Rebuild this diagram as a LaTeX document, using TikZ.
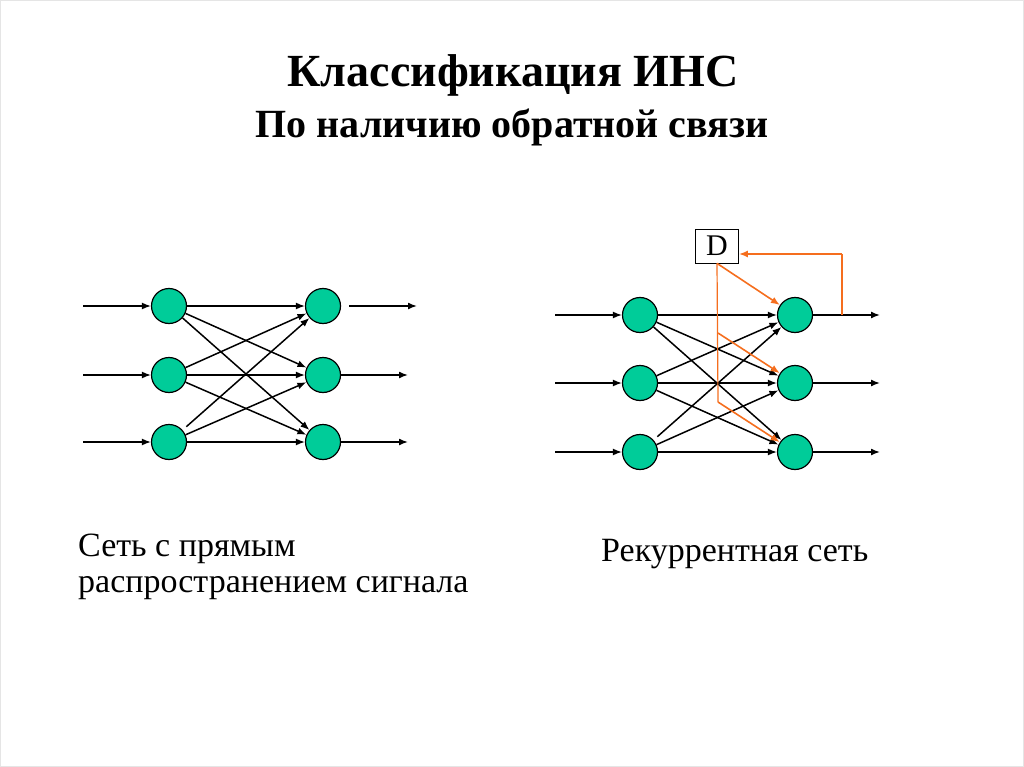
\documentclass[tikz,border=0pt]{standalone}
\usepackage{fontspec}
\setmainfont{Liberation Serif}
\usetikzlibrary{arrows.meta}
\definecolor{nGreen}{RGB}{0,204,153}
\definecolor{fbOrange}{RGB}{245,110,30}
\begin{document}
\begin{tikzpicture}[x=1pt,y=-1pt,
  neuron/.style={circle,draw=black,line width=1.2pt,fill=nGreen,minimum size=35pt,inner sep=0pt},
  conn/.style={-{Latex[length=9pt,width=7pt]},line width=1.5pt},
  fb/.style={draw=fbOrange,line width=1.2pt},
  fbarrow/.style={draw=fbOrange,line width=1.6pt,-{Latex[length=9pt,width=7pt]}},
  title/.style={font=\bfseries\fontsize{46}{46}\selectfont,anchor=base},
  subtitle/.style={font=\bfseries\fontsize{40}{40}\selectfont,anchor=base},
  caption/.style={font=\fontsize{34}{34}\selectfont,anchor=base west,inner sep=0pt},
]
\path[use as bounding box] (0,0) rectangle (1024,767);
\draw[black!10] (0.5,0.5) rectangle (1023.5,766.5);

% titles
\node[title] (t1) at (513,87) {Классификация ИНС};
\node[subtitle] (t2) at (512,138) {По наличию обратной связи};

% left network
\node[neuron] (a1) at (169,306) {};
\node[neuron] (a2) at (169,375) {};
\node[neuron] (a3) at (169,442) {};
\node[neuron] (b1) at (323,306) {};
\node[neuron] (b2) at (323,375) {};
\node[neuron] (b3) at (323,442) {};
\coordinate (ia1) at (83,306);
\coordinate (ia2) at (83,375);
\coordinate (ia3) at (83,442);
\coordinate (ob1s) at (349,306);
\coordinate (ob1) at (417,306);
\coordinate (ob2) at (408,375);
\coordinate (ob3) at (408,442);
\draw[conn] (ia1) -- (a1);
\draw[conn] (ia2) -- (a2);
\draw[conn] (ia3) -- (a3);
\draw[conn] (a1) -- (b1);
\draw[conn] (a1) -- (b2);
\draw[conn] (a1) -- (b3);
\draw[conn] (a2) -- (b1);
\draw[conn] (a2) -- (b2);
\draw[conn] (a2) -- (b3);
\draw[conn,shorten <=5pt] (a3) -- (b1);
\draw[conn] (a3) -- (b2);
\draw[conn] (a3) -- (b3);
\draw[conn] (ob1s) -- (ob1);
\draw[conn] (b2) -- (ob2);
\draw[conn] (b3) -- (ob3);

% right network
\node[neuron] (c1) at (640,315) {};
\node[neuron] (c2) at (640,383) {};
\node[neuron] (c3) at (640,452) {};
\node[neuron] (d1) at (795,315) {};
\node[neuron] (d2) at (795,383) {};
\node[neuron] (d3) at (795,452) {};
\coordinate (ic1) at (555,315);
\coordinate (ic2) at (555,383);
\coordinate (ic3) at (555,452);
\coordinate (od1) at (880,315);
\coordinate (od2) at (880,383);
\coordinate (od3) at (880,452);
\draw[conn] (ic1) -- (c1);
\draw[conn] (ic2) -- (c2);
\draw[conn] (ic3) -- (c3);
\draw[conn] (c1) -- (d1);
\draw[conn] (c1) -- (d2);
\draw[conn] (c1) -- (d3);
\draw[conn] (c2) -- (d1);
\draw[conn] (c2) -- (d2);
\draw[conn] (c2) -- (d3);
\draw[conn,shorten <=5pt] (c3) -- (d1);
\draw[conn] (c3) -- (d2);
\draw[conn] (c3) -- (d3);
\draw[conn] (d1) -- (od1);
\draw[conn] (d2) -- (od2);
\draw[conn] (d3) -- (od3);

% delay box and feedback
\node[draw,line width=0.8pt,fill=white,minimum width=43pt,minimum height=34pt,inner sep=0pt,
      font=\fontsize{30}{30}\selectfont] (D) at (717,246) {D};
\coordinate (fbtap) at (842,315);
\coordinate (fbtop) at (842,254);
\coordinate (fbmid) at (718,333);
\coordinate (fbbot) at (718,402);
\draw[fb] (fbtap) -- (fbtop);
\draw[fbarrow] (fbtop) -- (D.east |- fbtop);
\draw[fb] (D.south) -- (fbbot);
\draw[fbarrow] (D.south) -- (d1);
\draw[fbarrow] (fbmid) -- (d2);
\draw[fbarrow] (fbbot) -- (d3);

% captions
\node[caption] (l1) at (78,556) {Сеть с прямым};
\node[caption] (l2) at (78,592) {распространением сигнала};
\node[caption] (r1) at (601,561) {Рекуррентная сеть};
\end{tikzpicture}
\end{document}
